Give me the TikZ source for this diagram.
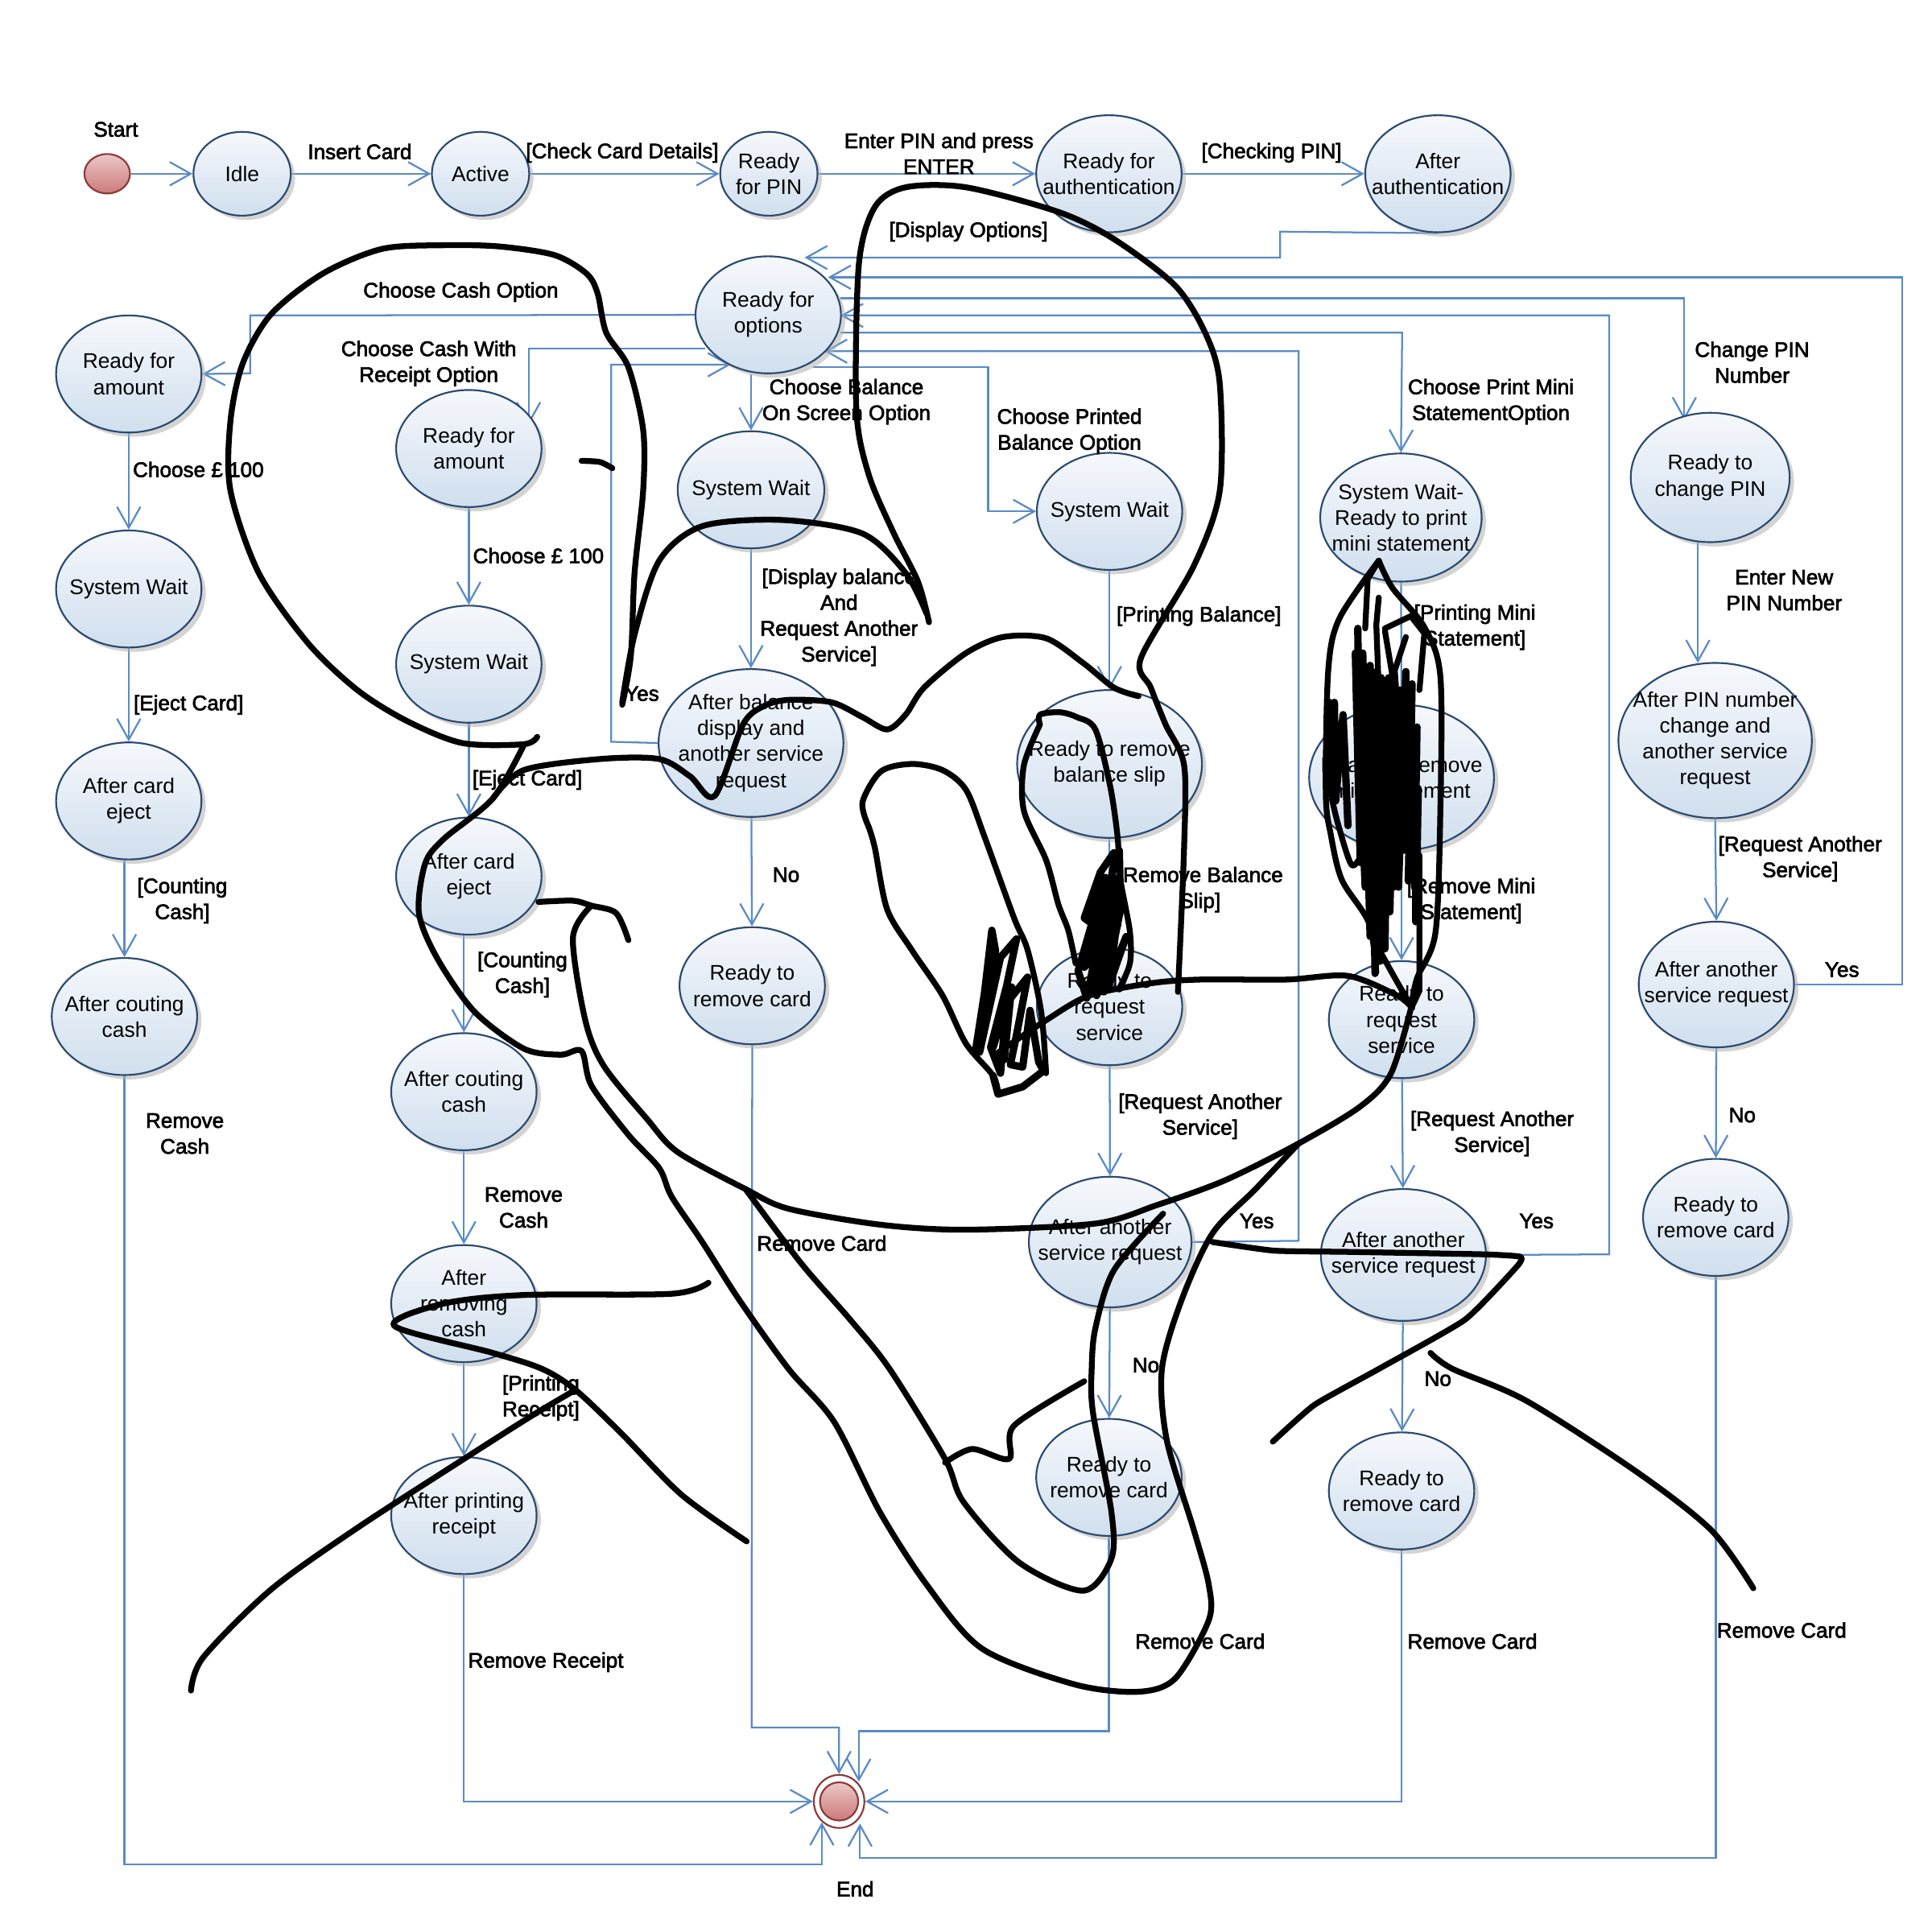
\documentclass[tikz,border=0pt]{standalone}
\usepackage{fontspec}
\setmainfont{Liberation Sans}
\newfontface\labf[FakeBold=2.5]{Liberation Sans}
\usetikzlibrary{arrows.meta,shapes.geometric,shadows,backgrounds}
\definecolor{lineblue}{HTML}{5B8BC6}
\definecolor{edgeblue}{HTML}{2B4A70}
\definecolor{topfill}{HTML}{F6F8FC}
\definecolor{botfill}{HTML}{D0DFEE}
\definecolor{redtop}{HTML}{EBC8C8}
\definecolor{redbot}{HTML}{CC7A78}
\definecolor{redline}{HTML}{8A3A3A}
\tikzset{
 st/.style n args={2}{ellipse,draw=edgeblue,line width=0.4pt,top color=topfill,bottom color=botfill,
   minimum width=#1*0.01cm,minimum height=#2*0.01cm,inner xsep=-0.6cm,inner ysep=-0.4cm,align=center,
   font=\fontsize{4.9}{5.97}\selectfont,
   drop shadow={shadow xshift=0.035cm,shadow yshift=-0.035cm,fill=black!30,opacity=.55}},
 lab/.style={inner sep=0pt,align=center,font=\labf\fontsize{4.85}{5.97}\selectfont},
 conn/.style={draw=lineblue,line width=0.42pt,-{Straight Barb[length=0.17cm,width=0.19cm]}},
 ink/.style={draw=black,line width=1.35pt,line cap=round,line join=round},
 inkthick/.style={draw=black,line width=1.7pt,line cap=round,line join=round},
}
\begin{document}
\begin{tikzpicture}[x=0.01cm,y=-0.01cm]
\useasboundingbox (0,0) rectangle (1568,1568);
% states
\node[ellipse,draw=redline,line width=0.4pt,top color=redtop,bottom color=redbot,minimum width=0.37cm,minimum height=0.32cm,inner sep=0pt] (start) at (87,141) {};
\node[st={79}{68}] (idle) at (196.5,141) {Idle};
\node[st={79}{68}] (active) at (390,141) {Active};
\node[st={79}{68}] (pin) at (624,141) {Ready\\for PIN};
\node[st={118}{95}] (auth) at (900,141) {Ready for\\authentication};
\node[st={118}{95}] (aauth) at (1167,141) {After\\authentication};
\node[st={118}{95}] (options) at (623.5,255.5) {Ready for\\options};
\node[st={118}{95}] (amtA) at (104.5,303.5) {Ready for\\amount};
\node[st={118}{95}] (amtB) at (380.5,364) {Ready for\\amount};
\node[st={118}{95}] (swA) at (104.5,478) {System Wait};
\node[st={118}{95}] (swB) at (380.5,539) {System Wait};
\node[st={119}{95}] (swC) at (609.5,397.5) {System Wait};
\node[st={118}{95}] (swD) at (900.5,415) {System Wait};
\node[st={131}{104}] (swE) at (1137,420) {System Wait-\\Ready to print\\mini statement};
\node[st={129}{105}] (chg) at (1388,387.5) {Ready to\\change PIN};
\node[st={150}{120}] (abal) at (609.5,603) {After balance\\display and\\another service\\request};
\node[st={150}{120}] (rbal) at (900.5,620) {Ready to remove\\balance slip};
\node[st={150}{118}] (rmin) at (1137.5,631) {Ready to remove\\mini statement};
\node[st={157}{126}] (apin) at (1392,601) {After PIN number\\change and\\another service\\request};
\node[st={118}{95}] (ejA) at (104.5,650) {After card\\eject};
\node[st={118}{95}] (ejB) at (380.5,711) {After card\\eject};
\node[st={118}{95}] (rsA) at (900.5,817) {Ready to\\request\\service};
\node[st={118}{95}] (rsB) at (1137.5,827.5) {Ready to\\request\\service};
\node[st={126}{102}] (asC) at (1393,799) {After another\\service request};
\node[st={118}{95}] (rcM) at (610.5,800) {Ready to\\remove card};
\node[st={118}{95}] (ctA) at (101,825) {After couting\\cash};
\node[st={118}{95}] (ctB) at (376.5,886) {After couting\\cash};
\node[st={132}{106}] (asA) at (901,1008) {After another\\service request};
\node[st={134}{107}] (asB) at (1139,1018.5) {After another\\service request};
\node[st={118}{95}] (rcR) at (1392.5,988) {Ready to\\remove card};
\node[st={118}{95}] (rmv) at (376.5,1058) {After\\removing\\cash};
\node[st={118}{95}] (prt) at (376.5,1230) {After printing\\receipt};
\node[st={118}{95}] (rcA) at (900,1199) {Ready to\\remove card};
\node[st={118}{95}] (rcB) at (1137.5,1210) {Ready to\\remove card};
\node[ellipse,draw=redline,line width=0.4pt,fill=white,minimum width=0.41cm,minimum height=0.43cm,inner sep=0pt] (endn) at (681,1462) {};
\node[ellipse,draw=redline,line width=0.4pt,top color=redtop,bottom color=redbot,minimum width=0.31cm,minimum height=0.31cm,inner sep=0pt] (endi) at (681,1462) {};
% free ends
\coordinate (tA) at (653,209);
\coordinate (tB) at (672,225);
\coordinate (tC) at (669,285);
\coordinate (tD) at (593,296);
\coordinate (tE) at (429,345);
\coordinate (tF) at (1367,341);
\coordinate (tG) at (667,1479);
\coordinate (tH) at (698,1480);
\coordinate (tI) at (697,1446);
\coordinate (tJ) at (682,256);
\coordinate (sA) at (660,298);
\coordinate (sB) at (572,283);
\coordinate (sC) at (682,242);
\coordinate (sD) at (682,270);
\coordinate (sE) at (1378,438);
\coordinate (tK) at (1378,538);
% connectors
\begin{scope}[on background layer]
\fill[white] (0,0) rectangle (1568,1568);
\draw[conn] (start) -- (idle);
\draw[conn] (idle) -- (active);
\draw[conn] (active) -- (pin);
\draw[conn] (pin) -- (auth);
\draw[conn] (auth) -- (aauth);
\draw[conn] (aauth.south) -- (1039,188) -- (1039,209) -- (tA);
\draw[conn] (asC.east) -- (1544,799) -- (1544,225) -- (tB);
\draw[conn] (sC) -- (1367,242) -- (tF);
\draw[conn] (asB.east) -- (1306,1018) -- (1306,256) -- (tJ);
\draw[conn] (sD) -- (1138,270) -- (swE.north);
\draw[conn] (asA.east) -- (1054,1007) -- (1054,285) -- (tC);
\draw[conn] (sA) -- (802,298) -- (802,415) -- (swD.west);
\draw[conn] (abal.west) -- (496,602) -- (496,296) -- (tD);
\draw[conn] (swC.north |- options.south) -- (swC.north);
\draw[conn] (options.west) -- (203,256) -- (203,303) -- (amtA.east);
\draw[conn] (sB) -- (429,283) -- (tE);
\draw[conn] (amtA) -- (swA);
\draw[conn] (swA) -- (ejA);
\draw[conn] (ejA.south -| ctA.north) -- (ctA.north);
\draw[conn] (ctA.south) -- (101,1513) -- (667,1513) -- (tG);
\draw[conn] (amtB) -- (swB);
\draw[conn] (swB) -- (ejB);
\draw[conn] (ejB.south -| ctB.north) -- (ctB.north);
\draw[conn] (ctB) -- (rmv);
\draw[conn] (rmv) -- (prt);
\draw[conn] (prt.south) -- (376.5,1462) -- (endn.west);
\draw[conn] (swC) -- (abal);
\draw[conn] (abal) -- (rcM);
\draw[conn] (rcM.south) -- (610,1402) -- (681,1402) -- (endn.north);
\draw[conn] (swD) -- (rbal);
\draw[conn] (rbal) -- (rsA);
\draw[conn] (rsA) -- (asA);
\draw[conn] (asA) -- (rcA);
\draw[conn] (rcA.south) -- (900,1405) -- (697,1405) -- (tI);
\draw[conn] (swE) -- (rmin);
\draw[conn] (rmin) -- (rsB);
\draw[conn] (rsB) -- (asB);
\draw[conn] (asB) -- (rcB);
\draw[conn] (rcB.south) -- (1137.5,1462) -- (endn.east);
\draw[conn] (sE) -- (tK);
\draw[conn] (apin.south) -- (asC.north);
\draw[conn] (asC) -- (rcR);
\draw[conn] (rcR.south) -- (1392.5,1508) -- (698,1508) -- (tH);
\end{scope}
% labels
\node[lab] (l1) at (94,105) {Start};
\node[lab] (l2) at (292,123) {Insert Card};
\node[lab] (l3) at (505,124) {[Check Card Details]};
\node[lab] (l4) at (762,124.5) {Enter PIN and press\\ENTER};
\node[lab] (l5) at (1032,124) {[Checking PIN]};
\node[lab] (l6) at (786,188) {[Display Options]};
\node[lab] (l7) at (374,237) {Choose Cash Option};
\node[lab] (l8) at (348,295) {Choose Cash With\\Receipt Option};
\node[lab] (l9) at (687,326) {Choose Balance\\On Screen Option};
\node[lab] (l10) at (868,350) {Choose Printed\\Balance Option};
\node[lab] (l11) at (1210,326) {Choose Print Mini\\StatementOption};
\node[lab] (l12) at (1422,294) {Change PIN\\Number};
\node[lab] (l13) at (161,381) {Choose £ 100};
\node[lab] (l14) at (437,451) {Choose £ 100};
\node[lab] (l15) at (681,501) {[Display balance\\And\\Request Another\\Service]};
\node[lab] (l16) at (973,500) {[Printing Balance]};
\node[lab] (l17) at (1197,509) {[Printing Mini\\Statement]};
\node[lab] (l18) at (1448,479) {Enter New\\PIN Number};
\node[lab] (l19) at (521,563) {Yes};
\node[lab] (l20) at (153,572) {[Eject Card]};
\node[lab] (l21) at (428,633) {[Eject Card]};
\node[lab] (l22) at (638,710) {No};
\node[lab] (l23) at (148,731) {[Counting\\Cash]};
\node[lab] (l24) at (424,791) {[Counting\\Cash]};
\node[lab] (l25) at (1461,697) {[Request Another\\Service]};
\node[lab] (l26) at (974,722) {[Remove Balance\\Slip]};
\node[lab] (l27) at (1194,731) {[Remove Mini\\Statement]};
\node[lab] (l28) at (1495,787) {Yes};
\node[lab] (l29) at (1414,905) {No};
\node[lab] (l30) at (150,920) {Remove\\Cash};
\node[lab] (l31) at (425,980) {Remove\\Cash};
\node[lab] (l32) at (667,1009) {Remove Card};
\node[lab] (l33) at (974,906) {[Request Another\\Service]};
\node[lab] (l34) at (1211,920) {[Request Another\\Service]};
\node[lab] (l35) at (1020,991) {Yes};
\node[lab] (l36) at (1247,991) {Yes};
\node[lab] (l37) at (930,1108) {No};
\node[lab] (l38) at (1167,1119) {No};
\node[lab,align=left,anchor=west] (l39) at (407,1134.5) {[Printing\\Receipt]};
\node[lab] (l40) at (443,1349) {Remove Receipt};
\node[lab] (l41) at (974,1332) {Remove Card};
\node[lab] (l42) at (1195,1332) {Remove Card};
\node[lab] (l43) at (1446,1323) {Remove Card};
\node[lab] (l44) at (694,1533) {End};
% pen scribbles
\draw[ink] plot[smooth,tension=.5] coordinates {(436,598)(425,604)(375,603)(330,585)(290,560)(250,522)(210,465)(187,398)(187,342)(197,295)(220,255)(262,222)(310,202)(360,199)(405,200)(450,207)(476,222)(485,238)(492,270)(510,298)(522,349)(522,398)(515,465)(512,532)(505,572)};
\draw[ink] plot[smooth,tension=.5] coordinates {(505,570)(515,515)(535,455)(570,427)(635,422)(700,433)(735,465)(752,498)};
\draw[ink] plot[smooth,tension=.5] coordinates {(472,374)(487,375)(497,380)};
\draw[ink] plot[smooth,tension=.5] coordinates {(754,505)(745,472)(725,432)(705,385)(695,332)(697,215)(710,168)(735,152)(784,152)(859,172)(904,194)(954,232)(979,272)(990,312)(990,398)(969,459)(926,534)(934,558)(946,588)(961,621)(961,688)(956,805)};
\draw[ink] plot[smooth,tension=.5] coordinates {(425,605)(400,648)(360,681)(345,701)(340,741)(355,778)(385,821)(425,851)(455,856)(472,853)(480,881)(510,921)(535,948)(545,971)(570,1008)(600,1055)(640,1111)(677,1154)(714,1227)(752,1286)(797,1338)(872,1367)(924,1373)(954,1362)(981,1315)(981,1286)(969,1242)(947,1169)(943,1111)(959,1055)(984,1001)(1019,965)(1054,928)};
\draw[ink] plot[smooth,tension=.5] coordinates {(400,648)(425,625)(487,616)(535,616)(560,630)(580,646)(603,588)(620,573)(640,568)(675,570)(700,582)(720,592)(735,580)(750,558)(784,530)(814,517)(849,518)(879,538)(904,558)(924,565)};
\draw[ink] plot[smooth,tension=.5] coordinates {(437,732)(465,731)(480,735)(500,741)(510,763)};
\draw[ink] plot[smooth,tension=.5] coordinates {(480,735)(465,761)(475,828)(490,865)(525,908)(550,935)(605,965)(640,981)(715,994)(784,998)(889,993)(939,978)(994,958)(1054,928)(1104,898)(1129,871)(1146,815)};
\draw[ink] plot[smooth,tension=.5] coordinates {(605,965)(650,1025)(690,1071)(722,1111)(767,1184)(782,1219)(827,1268)(879,1291)(902,1265)(902,1227)(887,1146)(886,1111)(889,1078)(904,1031)(944,985)};
\draw[ink] plot[smooth,tension=.5] coordinates {(767,1187)(789,1176)(819,1184)(823,1157)(880,1121)};
\draw[ink] plot[smooth,tension=.5] coordinates {(705,671)(700,651)(715,626)(740,620)(765,625)(784,641)(799,679)(823,745)(834,771)(845,821)(849,871)};
\draw[ink] plot[smooth,tension=.5] coordinates {(705,671)(710,688)(720,738)(740,771)(765,808)(784,847)(806,873)(810,888)};
% jagged scribble left of the request-service state
\draw[inkthick] (792,851)--(799,806)--(805,755)--(808,772)--(799,815)--(795,854)--(812,777)--(825,762)--(817,800)--(804,850)--(812,871)--(817,814)--(834,793)--(825,840)--(820,864)--(830,866)--(836,820)--(843,862)--(847,869)--(830,882)--(810,888)--(806,873);
\draw[inkthick] (812,820)--(806,850)--(821,801)--(815,860);
\draw[ink] plot[smooth,tension=.5] coordinates {(844,588)(831,621)(831,658)(849,698)(859,734)(867,755)(873,782)};
\draw[ink] plot[smooth,tension=.5] coordinates {(844,588)(844,580)(860,578)(874,582)(889,592)(901,638)(907,679)(909,712)(917,756)(917,782)(908,803)};
% dense scribble below the balance slip state
\draw[ink] (909,690)--(910,735);
\draw[inkthick] (904,692)--(893,708)--(880,745)--(884,748)--(897,712)--(875,788)--(882,810)--(905,697)--(885,805)--(908,712)--(890,808)--(911,730)--(896,805)--(914,760)--(900,800)--(905,760)--(880,785)--(900,720)--(886,795)--(906,745);
\draw[ink] plot[smooth,tension=.5] coordinates {(809,855)(849,828)(884,808)(934,798)(974,795)(1044,795)(1094,792)(1134,808)(1146,818)};
% mini statement scribble
\draw[ink] plot[smooth,tension=.5] coordinates {(1119,455)(1087,502)(1078,544)(1076,644)(1080,677)(1089,714)(1111,749)(1117,789)};
\draw[ink] plot[smooth,tension=.5] coordinates {(1119,455)(1130,477)(1156,509)(1169,549)(1169,657)(1165,757)(1150,794)(1145,819)};
\draw[ink] plot[smooth,tension=.5] coordinates {(1080,644)(1086,669)(1097,702)(1106,692)};
\draw[ink] (1119,455)--(1110,470)--(1108,510);
\draw[ink] (1119,485)--(1117,507)--(1119,560);
\draw[ink] (1124,510)--(1145,500)--(1156,514)--(1152,560);
\draw[ink] (1124,512)--(1132,560);
\draw[ink] (1141,517)--(1132,544)--(1136,600);
\draw[ink] (1152,694)--(1152,804)--(1145,819);
\draw[inkthick] (1149,700)--(1149,748);
\draw[inkthick] (1079,570)--(1079,640)--(1083,570)--(1084,650)--(1090,580)--(1094,670);
\draw[inkthick] (1102,510)--(1104,700)--(1100,530)--(1108,720)--(1106,530)--(1112,760)--(1112,540)--(1116,790)--(1117,545)--(1120,780)--(1121,550)--(1124,770)--(1127,550)--(1128,740)--(1132,560)--(1131,720)--(1136,560)--(1135,720)--(1141,545)--(1139,690)--(1146,555)--(1143,715)--(1150,590)--(1148,720)--(1151,640)--(1150,700);
\draw[ink] plot[smooth,tension=.5] coordinates {(1114,761)(1130,790)(1146,818)};
\draw[ink] plot[smooth,tension=.5] coordinates {(575,1041)(545,1050)(425,1051)(360,1058)(320,1076)(400,1098)(440,1111)(467,1128)(504,1163)(553,1213)(606,1251)};
\draw[ink] plot[smooth,tension=.5] coordinates {(155,1372)(165,1345)(220,1290)(290,1240)(375,1185)(430,1150)(467,1128)};
\draw[ink] plot[smooth,tension=.3] coordinates {(984,1008)(1034,1015)(1094,1016)(1204,1018)(1234,1020)(1231,1028)(1189,1071)(1119,1111)(1067,1140)(1033,1170)};
\draw[ink] plot[smooth,tension=.5] coordinates {(1161,1098)(1179,1111)(1239,1137)(1329,1195)(1389,1242)(1423,1289)};
\end{tikzpicture}
\end{document}
